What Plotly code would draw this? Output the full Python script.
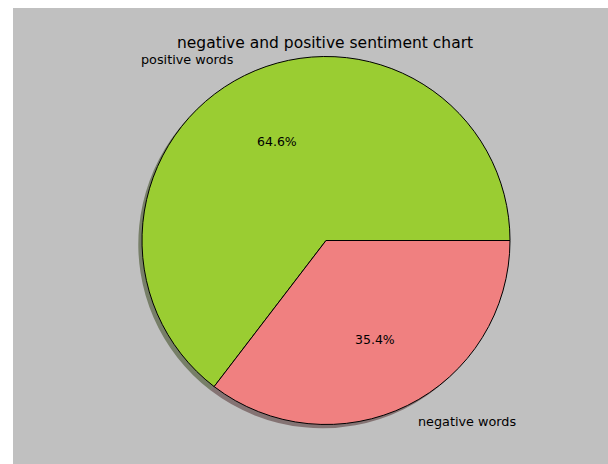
import math
import plotly.graph_objects as go

# ---- data ----
labels = ["positive words", "negative words"]
values = [64.6, 35.4]
colors = ["yellowgreen", "lightcoral"]
shadow_colors = ["rgba(46,61,15,0.5)", "rgba(72,38,38,0.5)"]
title_text = "negative and positive sentiment chart"

# ---- layout geometry (page pixels) ----
OX, OY = 0, 0          # body margin removed in post_script
W, H = 608, 464        # figure size
ML, MT = 13, 8
PW, PH = W - ML, H - MT
CX, CY, R = 326.0, 240.5, 184.0
SH = 3.7  # shadow offset in px


def px2paper(px, py):
    return (px - OX - ML) / PW, (OY + H - py) / PH


def domain(cx, cy, r):
    x0, y1 = px2paper(cx - r, cy - r)
    x1, y0 = px2paper(cx + r, cy + r)
    return dict(x=[x0, x1], y=[y0, y1])


total = sum(values)
# first slice runs counterclockwise from 3 o'clock (matplotlib style);
# plotly's counterclockwise rotation marks where the first slice ends
rot = 90 - values[0] / total * 360

fig = go.Figure()
# shadow
fig.add_trace(go.Pie(
    labels=labels, values=values, sort=False, direction="counterclockwise",
    rotation=rot, marker=dict(colors=shadow_colors, line=dict(width=0)),
    textinfo="none", hoverinfo="skip", showlegend=False,
    domain=domain(CX - SH, CY + SH, R),
))
# main pie
fig.add_trace(go.Pie(
    labels=labels, values=values, sort=False, direction="counterclockwise",
    rotation=rot, marker=dict(colors=colors, line=dict(color="black", width=1)),
    textinfo="none", showlegend=False,
    domain=domain(CX, CY, R),
))

annotations = []
start = 0.0
for lab, v in zip(labels, values):
    frac = v / total
    mid = math.radians((start + frac / 2) * 360)
    start += frac
    c, s = math.cos(mid), math.sin(mid)
    lx, ly = px2paper(CX + 1.1 * R * c, CY - 1.1 * R * s)
    annotations.append(dict(
        x=lx, y=ly, xref="paper", yref="paper", text=lab, showarrow=False,
        xanchor="right" if c < 0 else "left", yanchor="middle",
        font=dict(family="DejaVu Sans", size=12.8, color="#000000"),
    ))
    tx, ty = px2paper(CX + 0.6 * R * c, CY - 0.6 * R * s)
    annotations.append(dict(
        x=tx, y=ty, xref="paper", yref="paper", text=f"{frac*100:.1f}%",
        showarrow=False, xanchor="center", yanchor="middle",
        font=dict(family="DejaVu Sans", size=12.5, color="#000000"),
    ))

tx, ty = px2paper(324.5, 43)
annotations.append(dict(
    x=tx, y=ty, xref="paper", yref="paper", text=title_text, showarrow=False,
    xanchor="center", yanchor="middle",
    font=dict(family="DejaVu Sans", size=15.5, color="#000000"),
))

fig.update_layout(
    width=W, height=H,
    margin=dict(l=ML, r=0, t=MT, b=0, pad=0),
    paper_bgcolor="white",
    plot_bgcolor="#c0c0c0",
    shapes=[dict(type="rect", xref="paper", yref="paper", x0=0, x1=1, y0=0, y1=1,
                 fillcolor="#c0c0c0", line=dict(width=0), layer="below")],
    annotations=annotations,
    hovermode=False,
)

fig.write_html(
    "out.html",
    config={"displayModeBar": False},
    post_script="document.body.style.margin='0';"
                "document.documentElement.style.overflow='hidden';"
                "document.body.style.overflow='hidden';"
                "document.documentElement.style.background='#c0c0c0';",
)
